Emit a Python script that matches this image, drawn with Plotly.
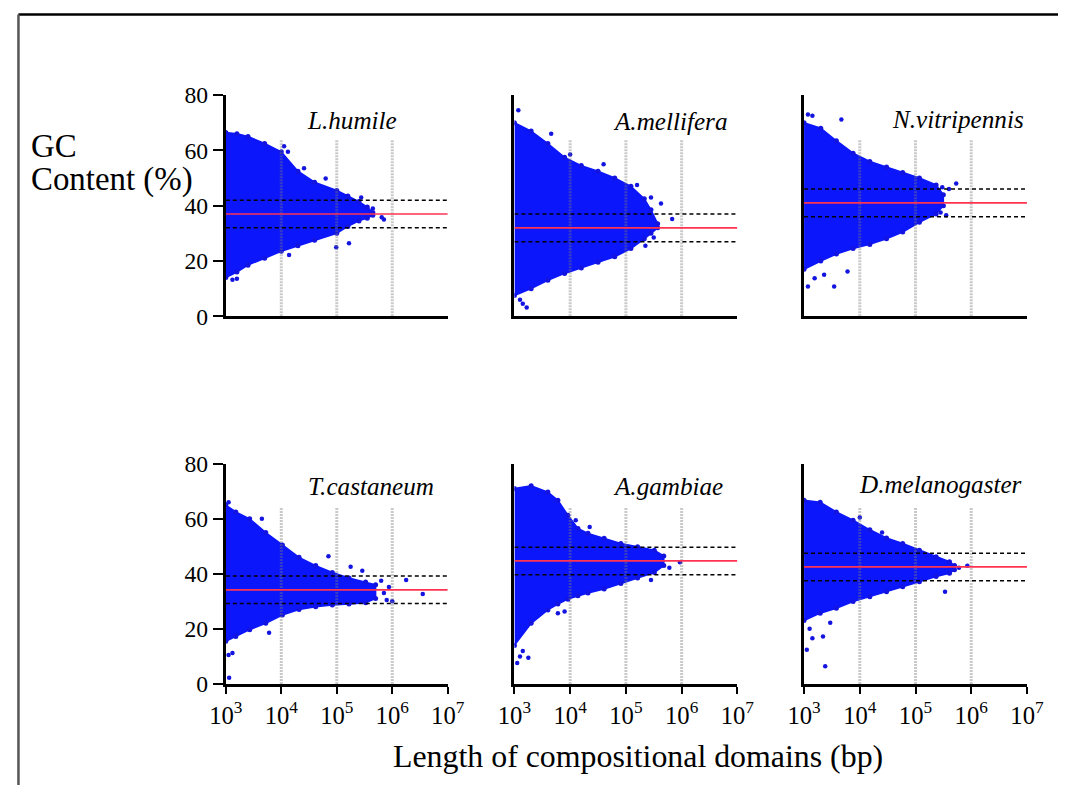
import plotly.graph_objects as go

W, H = 1075, 798
FONT = "Liberation Serif"
BLUE = "rgb(12,22,250)"
DOT_BLUE = "rgb(20,20,225)"
RED = "rgb(255,50,80)"

# ---------------- data ----------------
species = ["L.humile", "A.mellifera", "N.vitripennis",
           "T.castaneum", "A.gambiae", "D.melanogaster"]
mean_gc = [37.0, 32.0, 41.0, 34.2, 44.7, 42.5]   # red line (%)
band_half = 5.0                                  # dashed lines at mean +/- 5

# envelope of the dense cloud: log10(length bp), upper GC %, lower GC %
env_logx = [
    [3.0, 3.2, 3.4, 3.7, 4.0, 4.3, 4.6, 5.0, 5.2, 5.4, 5.55, 5.65],
    [3.0, 3.3, 3.6, 3.9, 4.2, 4.5, 4.8, 5.09, 5.33, 5.45, 5.57],
    [3.0, 3.3, 3.58, 3.88, 4.18, 4.48, 4.77, 5.07, 5.37, 5.5],
    [3.0, 3.18, 3.43, 3.72, 4.02, 4.32, 4.62, 4.92, 5.22, 5.52, 5.7],
    [3.0, 3.3, 3.6, 3.78, 3.96, 4.14, 4.32, 4.61, 4.91, 5.21, 5.51, 5.68],
    [3.0, 3.29, 3.58, 3.88, 4.18, 4.48, 4.77, 5.07, 5.37, 5.61, 5.7],
]
env_upper = [
    [66.5, 66, 65, 62.5, 59.5, 52.5, 48.5, 45.5, 43.5, 41.5, 39.5, 37.5],
    [70, 67, 62.5, 57.5, 54.5, 52.5, 50, 47, 42.5, 38.5, 33.5],
    [70, 68, 63.5, 59, 56, 54, 52, 50, 47.5, 44],
    [65, 62.5, 60, 55, 50.5, 46, 43, 40.5, 38.5, 37, 36],
    [71, 72, 69.7, 66.7, 61.3, 56.5, 54.7, 52.9, 51, 49.8, 48.6, 46.5],
    [66.7, 66, 62.5, 59.5, 56, 53, 51, 48.6, 46.2, 44.4, 43],
]
env_lower = [
    [14, 16, 18.5, 21, 23.5, 25.5, 27.5, 30, 32.5, 34.5, 35.5, 36.5],
    [7.5, 10, 13, 15.5, 17.5, 19.5, 21.5, 24.5, 28, 30, 32],
    [17, 20, 22.5, 24.5, 26, 28, 30.5, 34, 37, 40],
    [15.5, 17.2, 19.7, 22, 25, 27, 28, 28.7, 29, 29.5, 31],
    [14, 22, 26.9, 29, 30.8, 32, 33, 34.5, 36.5, 38.5, 40.5, 43],
    [23, 25.7, 27.5, 29.9, 31.7, 33.5, 35.3, 37.1, 39, 40.2, 41.5],
]
# isolated points outside the dense cloud: log10(length bp), GC %
out_logx = [
    [3.12, 3.2, 4.05, 4.12, 4.41, 4.8, 5.22, 4.99, 4.14, 5.44, 5.65, 5.81, 5.85],
    [3.07, 3.15, 3.22, 3.1, 5.83, 5.63, 3.66, 4.0, 4.6, 5.2, 5.45, 5.5, 5.35],
    [3.07, 3.15, 3.67, 3.07, 3.19, 3.54, 3.78, 3.36, 5.73, 5.48, 5.6, 5.55, 5.45],
    [3.06, 3.05, 3.12, 3.78, 3.65, 6.25, 6.55, 5.94, 4.85, 5.25, 5.46, 5.85, 6.0,
     5.9, 5.8, 3.05],
    [3.05, 3.1, 3.15, 3.25, 3.78, 3.9, 5.97, 5.78, 5.45, 4.1, 4.35],
    [3.05, 3.15, 3.38, 3.34, 3.47, 5.53, 5.93, 5.78, 3.1, 4.0, 4.4],
]
out_gc = [
    [13.2, 13.6, 61.5, 59.5, 53.5, 49.8, 26.4, 25.0, 22.2, 43, 39, 35.8, 35],
    [74.5, 4.5, 3.2, 6, 35.2, 40.8, 66, 58.5, 55, 47.5, 43, 28.5, 25.5],
    [73, 72.5, 71.2, 10.8, 13.8, 10.8, 16.2, 15, 48, 46.7, 46, 36.5, 37.5],
    [2.2, 10.5, 11.2, 18.6, 60, 37.8, 32.7, 35.2, 46.4, 42.6, 41.1, 33, 30,
     30.5, 37.5, 66],
    [7.6, 10, 12, 9.5, 25.7, 26.3, 44.2, 42.2, 37.8, 59.5, 57],
    [12.4, 16.6, 6.4, 17.2, 22.2, 33.5, 42.9, 42.2, 20, 60.5, 55],
]
grid_lengths = [1e4, 1e5, 1e6]
grid_top = 64
x_tickvals = [1e3, 1e4, 1e5, 1e6, 1e7]
x_ticktext = ["10<sup>3</sup>", "10<sup>4</sup>", "10<sup>5</sup>",
              "10<sup>6</sup>", "10<sup>7</sup>"]
y_tickvals = [0, 20, 40, 60, 80]

# ---------------- layout geometry ----------------
# The page is photographed slightly inset/scaled; target pixel positions
# (as seen in the photo) are mapped back to figure pixels.
SX, OX = 0.973, 13.2
SY, OY = 0.971, 10.6


def fx(px):
    return min(max((px - OX) / SX, 0.0), W) / W


def fy(py):
    return 1 - min(max((py - OY) / SY, 0.0), H) / H


def fs(size):
    return size / SX


col_px = [(223, 446), (513, 737), (804, 1028)]
row_px = [(93, 315), (463, 684)]
label_pos = [(350, 118), (669, 119), (959, 117),
             (369, 486), (667, 486), (941, 484)]

fig = go.Figure()
layout = dict(
    width=W, height=H, margin=dict(l=0, r=0, t=0, b=0),
    paper_bgcolor="white", plot_bgcolor="white", showlegend=False,
    font=dict(family=FONT, color="black"),
)
annotations = []

for i in range(6):
    r, c = divmod(i, 3)
    suf = "" if i == 0 else str(i + 1)
    xr, yr = "x" + suf, "y" + suf
    px = [10 ** v for v in env_logx[i]]
    poly_x = px + px[::-1]
    poly_y = env_upper[i] + env_lower[i][::-1]
    # dense cloud
    fig.add_trace(go.Scatter(x=poly_x, y=poly_y, xaxis=xr, yaxis=yr,
                             mode="lines", fill="toself", fillcolor=BLUE,
                             line=dict(color=BLUE, width=1.5), hoverinfo="skip"))
    # speckled edge
    fig.add_trace(go.Scatter(x=poly_x, y=poly_y, xaxis=xr, yaxis=yr,
                             mode="markers",
                             marker=dict(color=DOT_BLUE, size=5), hoverinfo="skip"))
    # isolated points
    fig.add_trace(go.Scatter(x=[10 ** v for v in out_logx[i]], y=out_gc[i],
                             xaxis=xr, yaxis=yr, mode="markers",
                             marker=dict(color=DOT_BLUE, size=4.5), hoverinfo="skip"))
    # vertical dotted grid lines
    for g in grid_lengths:
        fig.add_trace(go.Scatter(x=[g, g], y=[0, grid_top], xaxis=xr, yaxis=yr,
                                 mode="lines", hoverinfo="skip",
                                 line=dict(color="rgba(120,120,120,0.40)",
                                           width=3, dash="2px,1px")))
    # band lines
    m = mean_gc[i]
    for yv in (m + band_half, m - band_half):
        fig.add_trace(go.Scatter(x=[1e3, 1e7], y=[yv, yv], xaxis=xr, yaxis=yr,
                                 mode="lines", hoverinfo="skip",
                                 line=dict(color="black", width=1.5, dash="4px,3px")))
    fig.add_trace(go.Scatter(x=[1e3, 1e7], y=[m, m], xaxis=xr, yaxis=yr,
                             mode="lines", hoverinfo="skip",
                             line=dict(color=RED, width=1.7)))

    x0, x1 = col_px[c]
    yt, yb = row_px[r]
    bottom = (r == 1)
    left = (c == 0)
    layout["xaxis" + suf] = dict(
        domain=[fx(x0), fx(x1)], anchor=yr, type="log", range=[3, 7],
        showline=True, linewidth=3, linecolor="black", mirror=False,
        showgrid=False, zeroline=False,
        ticks="outside" if bottom else "", ticklen=7, tickwidth=2, tickcolor="black",
        showticklabels=bottom, tickmode="array", tickvals=x_tickvals,
        ticktext=x_ticktext, tickfont=dict(family=FONT, size=fs(24), color="black"),
    )
    layout["yaxis" + suf] = dict(
        domain=[fy(yb), fy(yt)], anchor=xr, range=[0, 80],
        showline=True, linewidth=3, linecolor="black",
        showgrid=False, zeroline=False,
        ticks="outside" if left else "", ticklen=10, tickwidth=2, tickcolor="black",
        showticklabels=left, tickmode="array", tickvals=y_tickvals,
        tickfont=dict(family=FONT, size=fs(23), color="black"),
    )
    lx, ly = label_pos[i]
    annotations.append(dict(
        text="<i>%s</i>" % species[i], xref="paper", yref="paper",
        x=fx(lx), y=fy(ly), xanchor="center", yanchor="middle",
        showarrow=False, font=dict(family=FONT, size=fs(24.5), color="black")))

annotations += [
    dict(text="GC", xref="paper", yref="paper", x=fx(25), y=fy(144),
         xanchor="left", yanchor="middle", showarrow=False,
         font=dict(family=FONT, size=fs(32), color="black")),
    dict(text="Content (%)", xref="paper", yref="paper", x=fx(25), y=fy(178),
         xanchor="left", yanchor="middle", showarrow=False,
         font=dict(family=FONT, size=fs(32), color="black")),
    dict(text="Length of compositional domains (bp)", xref="paper", yref="paper",
         x=fx(637), y=fy(757), xanchor="center", yanchor="middle",
         showarrow=False, font=dict(family=FONT, size=fs(31), color="black")),
]
layout["annotations"] = annotations
layout["shapes"] = [
    dict(type="line", xref="paper", yref="paper", x0=1.5 / W, x1=1,
         y0=1 - 1.5 / H, y1=1 - 1.5 / H, line=dict(color="black", width=2.5)),
    dict(type="line", xref="paper", yref="paper", x0=1.5 / W, x1=1.5 / W,
         y0=0, y1=1 - 1.5 / H, line=dict(color="#555555", width=2.5)),
]
fig.update_layout(**layout)
fig.write_html("out.html")
